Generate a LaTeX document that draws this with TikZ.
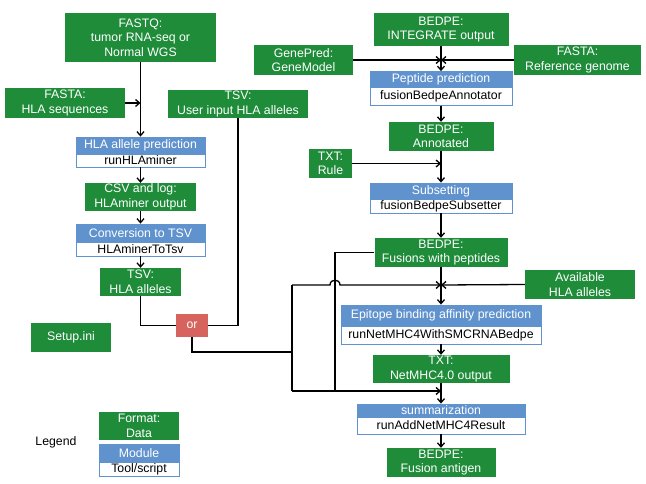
\documentclass[tikz,border=0pt]{standalone}
\usepackage{fontspec}
\setmainfont{Liberation Sans}
\usetikzlibrary{arrows.meta}
\definecolor{dgreen}{RGB}{31,140,58}
\definecolor{mblue}{RGB}{96,146,206}
\definecolor{orred}{RGB}{215,99,94}
\begin{document}
\begin{tikzpicture}[x=1pt,y=-1pt,
 box/.style={inner sep=0pt, align=center, font=\fontsize{12.3}{14.5}\selectfont},
 data/.style={box, fill=dgreen, text=white},
 modh/.style={box, fill=mblue, draw=mblue, line width=0.8pt, text=white},
 modt/.style={box, fill=white, draw=mblue, line width=0.8pt, text=black},
 orbox/.style={box, fill=orred, text=white},
 conn/.style={line width=1.3pt, black},
 arr/.style={conn, -{Straight Barb[length=4pt,width=7pt]}},
]
\useasboundingbox (0,0) rectangle (646,484);
% left column
\node[data, minimum width=151pt, minimum height=49pt] (fastq) at (140.5,37.5) {FASTQ:\\tumor RNA-seq or\\Normal WGS};
\node[data, minimum width=120pt, minimum height=30pt] (fastaHLA) at (65,103) {FASTA:\\HLA sequences};
\node[data, minimum width=140pt, minimum height=28pt] (tsvUser) at (238,104) {TSV:\\User input HLA alleles};
\node[modh, minimum width=129pt, minimum height=17pt] (hlaH) at (140.5,145.5) {HLA allele prediction};
\node[modt, minimum width=129pt, minimum height=13pt] (hlaT) at (140.5,160.5) {runHLAminer};
\node[data, minimum width=111pt, minimum height=28pt] (csv) at (140.5,197) {CSV and log:\\HLAminer output};
\node[modh, minimum width=129pt, minimum height=18pt] (convH) at (140.5,233) {Conversion to TSV};
\node[modt, minimum width=129pt, minimum height=14pt] (convT) at (140.5,249) {HLAminerToTsv};
\node[data, minimum width=81pt, minimum height=28pt] (tsvHLA) at (140.5,282) {TSV:\\HLA alleles};
\node[orbox, minimum width=32pt, minimum height=23pt] (or) at (192,325.5) {or};
\node[data, minimum width=80pt, minimum height=29pt] (setup) at (71,337.5) {Setup.ini};
% right column
\node[data, minimum width=135pt, minimum height=33pt] (integrate) at (441,29.5) {BEDPE:\\INTEGRATE output};
\node[data, minimum width=99pt, minimum height=30pt] (genepred) at (303.5,60) {GenePred:\\GeneModel};
\node[data, minimum width=127pt, minimum height=30pt] (fastaRef) at (577.5,60) {FASTA:\\Reference genome};
\node[modh, minimum width=142pt, minimum height=16pt] (pepH) at (441,79.5) {Peptide prediction};
\node[modt, minimum width=142pt, minimum height=18pt] (pepT) at (441,96.5) {fusionBedpeAnnotator};
\node[data, minimum width=105pt, minimum height=29pt] (annot) at (441,136.5) {BEDPE:\\Annotated};
\node[data, minimum width=43pt, minimum height=29pt] (rule) at (330.5,163.5) {TXT:\\Rule};
\node[modh, minimum width=142pt, minimum height=16pt] (subH) at (441,191) {Subsetting};
\node[modt, minimum width=142pt, minimum height=14pt] (subT) at (441,206) {fusionBedpeSubsetter};
\node[data, minimum width=133pt, minimum height=29pt] (fusions) at (441,252.5) {BEDPE:\\Fusions with peptides};
\node[data, minimum width=110pt, minimum height=29pt] (avail) at (580,284.5) {Available\\HLA alleles};
\node[modh, minimum width=200pt, minimum height=21pt] (epiH) at (441,315.5) {Epitope binding affinity prediction};
\node[modt, minimum width=200pt, minimum height=18pt] (epiT) at (441,335) {runNetMHC4WithSMCRNABedpe};
\node[data, minimum width=137pt, minimum height=28pt] (netmhc) at (441,369) {TXT:\\NetMHC4.0 output};
\node[modh, minimum width=168pt, minimum height=13pt] (sumH) at (441,410.5) {summarization};
\node[modt, minimum width=168pt, minimum height=17pt] (sumT) at (441,425.5) {runAddNetMHC4Result};
\node[data, minimum width=109pt, minimum height=29pt] (antigen) at (441,462.5) {BEDPE:\\Fusion antigen};
% legend
\node[box, text=black] (legend) at (56,442) {Legend};
\node[data, minimum width=80pt, minimum height=28pt] (fmt) at (139,426) {Format:\\Data};
\node[modh, minimum width=80pt, minimum height=18pt] (modH) at (139,453) {Module};
\node[modt, minimum width=80pt, minimum height=14pt] (modT) at (139,469) {Tool/script};
% connectors left
\draw[arr] (fastq.south) -- (hlaH.north);
\draw[arr] (fastaHLA.east) -- (fastaHLA.east -| fastq.south);
\draw[arr] (hlaT.south) -- (csv.north);
\draw[arr] (csv.south) -- (convH.north);
\draw[arr] (convT.south) -- (tsvHLA.north);
\draw[conn] (tsvHLA.south) |- (or.west);
\draw[conn] (tsvUser.south) |- (or.east);
\coordinate (jA) at (292,352);
\coordinate (jTop) at (292,285);
\coordinate (jBot) at (292,391);
\coordinate (jV) at (335,391);
\draw[conn] (or.south) |- (jA);
\draw[conn] (jTop) -- (jBot);
\coordinate (m1) at (fusions.south |- jTop);
\coordinate (m2) at (netmhc.south |- jBot);
\draw[arr] (jTop) -- (330,285) .. controls (330,278.5) and (340,278.5) .. (340,285) -- (m1);
\draw[arr] (avail.west) -- (m1);
\draw[conn] (fusions.west) -| (jV);
\draw[arr] (jBot) -- (m2);
% connectors right
\coordinate (m0) at (integrate.south |- genepred.east);
\coordinate (m3) at (annot.south |- rule.east);
\draw[arr] (integrate.south) -- (pepH.north);
\draw[arr] (genepred.east) -- (m0);
\draw[arr] (fastaRef.west) -- (m0);
\draw[arr] (pepT.south) -- (annot.north);
\draw[arr] (annot.south) -- (subH.north);
\draw[arr] (rule.east) -- (m3);
\draw[arr] (subT.south) -- (fusions.north);
\draw[arr] (fusions.south) -- (epiH.north);
\draw[arr] (epiT.south) -- (netmhc.north);
\draw[arr] (netmhc.south) -- (sumH.north);
\draw[arr] (sumT.south) -- (antigen.north);
\end{tikzpicture}
\end{document}
